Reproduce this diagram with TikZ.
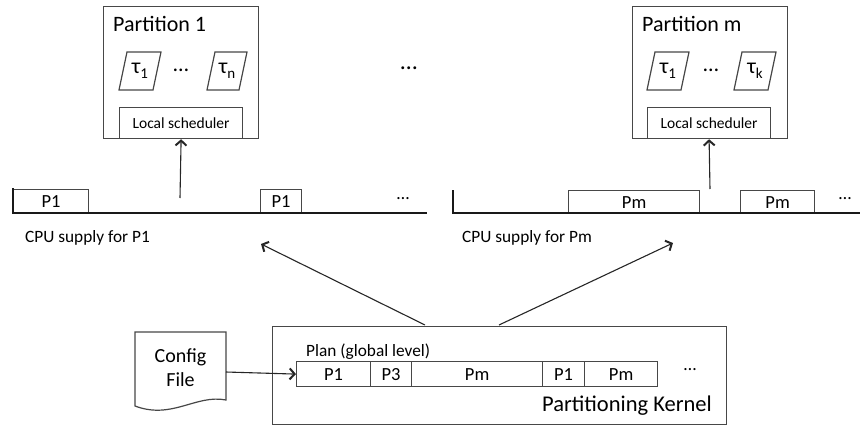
\documentclass[tikz,border=0pt]{standalone}
\usepackage{fontspec}
\setmainfont{Carlito}
\usetikzlibrary{arrows.meta}
\newcommand{\tsub}[1]{\raisebox{-0.45ex}{\fontsize{15}{15}\selectfont #1}}
\begin{document}
\begin{tikzpicture}[x=1pt,y=-1pt,
  box/.style={draw=black!72, line width=1.2pt},
  cell/.style={box, minimum height=25pt, inner sep=0pt, anchor=north west, font=\fontsize{18.5}{18.5}\selectfont},
  lbl/.style={inner sep=0pt, text=black},
  arr/.style={draw=black!85, line width=1.1pt, -{Straight Barb[length=5pt,width=11pt,line width=2pt]}},
  axis/.style={draw=black!90, line width=2.6pt}]
\useasboundingbox (0,0) rectangle (860,426);

% ---------------- Partition 1 ----------------
\node[box, anchor=north west, minimum width=155pt, minimum height=132pt, inner sep=0pt] (part1) at (103,6) {};
\node[lbl, anchor=west, font=\fontsize{22}{22}\selectfont] (part1t) at (113,24) {Partition 1};
\draw[box] (119,90) -- (127,52) -- (161,52) -- (153,90) -- cycle;
\node[lbl, font=\fontsize{22}{22}\selectfont] (t11) at (140,71) {τ\tsub{1}};
\node[lbl, font=\fontsize{22}{22}\selectfont] (d1) at (181,70) {\ldots};
\draw[box] (207,90) -- (215,52) -- (247,52) -- (239,90) -- cycle;
\node[lbl, font=\fontsize{22}{22}\selectfont] (t1n) at (227,71) {τ\tsub{n}};
\node[box, anchor=north west, minimum width=123pt, minimum height=31pt, inner sep=0pt, font=\fontsize{15.5}{15.5}\selectfont] (ls1) at (119,107) {Local scheduler};

% ---------------- Partition m ----------------
\node[box, anchor=north west, minimum width=155pt, minimum height=132pt, inner sep=0pt] (partm) at (632,6) {};
\node[lbl, anchor=west, font=\fontsize{22}{22}\selectfont] (partmt) at (642,24) {Partition m};
\draw[box] (647,90) -- (655,52) -- (689,52) -- (681,90) -- cycle;
\node[lbl, font=\fontsize{22}{22}\selectfont] (tm1) at (668,71) {τ\tsub{1}};
\node[lbl, font=\fontsize{22}{22}\selectfont] (dm) at (711,70) {\ldots};
\draw[box] (734,90) -- (742,52) -- (776,52) -- (768,90) -- cycle;
\node[lbl, font=\fontsize{22}{22}\selectfont] (tmk) at (755,71) {τ\tsub{k}};
\node[box, anchor=north west, minimum width=123pt, minimum height=31pt, inner sep=0pt, font=\fontsize{15.5}{15.5}\selectfont] (lsm) at (647,107) {Local scheduler};

% middle dots
\node[lbl, font=\fontsize{24}{24}\selectfont] (dtop) at (409,68) {\ldots};

% ---------------- Timeline P1 ----------------
\node[cell, minimum width=75pt, minimum height=24pt] (s11) at (13,189) {P1};
\node[cell, minimum width=41pt, minimum height=24pt] (s12) at (260,189) {P1};
\draw[axis] (13,188) -- (13,213) -- (427,213);
\node[lbl, font=\fontsize{18}{18}\selectfont] (sd1) at (403,199) {\ldots};
\node[lbl, anchor=west, font=\fontsize{17.3}{17.3}\selectfont] (cpu1) at (25,238) {CPU supply for P1};
\coordinate (a1) at (180,198);
\draw[arr] (a1) -- (ls1.south);

% ---------------- Timeline Pm ----------------
\node[cell, minimum width=131pt, minimum height=23pt] (sm1) at (568,190) {Pm};
\node[cell, minimum width=74pt, minimum height=23pt] (sm2) at (740,190) {Pm};
\draw[axis] (453,190) -- (453,213) -- (862,213);
\node[lbl, font=\fontsize{18}{18}\selectfont] (sdm) at (845,199) {\ldots};
\node[lbl, anchor=west, font=\fontsize{17.3}{17.3}\selectfont] (cpum) at (462,238) {CPU supply for Pm};
\coordinate (am) at (710,189);
\draw[arr] (am) -- (lsm.south);

% ---------------- Partitioning Kernel ----------------
\node[box, anchor=north west, minimum width=454pt, minimum height=98pt, inner sep=0pt] (kern) at (272,326) {};
\node[lbl, anchor=east, font=\fontsize{22.5}{22.5}\selectfont] (kernt) at (712,406) {Partitioning Kernel};
\node[lbl, anchor=west, font=\fontsize{17.3}{17.3}\selectfont] (plant) at (306,352) {Plan (global level)};
\node[cell, minimum width=74pt] (c1) at (296,361) {P1};
\node[cell, minimum width=41pt] (c2) at (370,361) {P3};
\node[cell, minimum width=131pt] (c3) at (411,361) {Pm};
\node[cell, minimum width=42pt] (c4) at (542,361) {P1};
\node[cell, minimum width=73pt] (c5) at (584,361) {Pm};
\node[lbl, font=\fontsize{18}{18}\selectfont] (kd) at (690,370) {\ldots};

% ---------------- Config file ----------------
\draw[box] (135,332) -- (226,332) -- (226,400) .. controls (196,394) and (172,420) .. (135,406) -- cycle;
\node[lbl, font=\fontsize{20}{24}\selectfont, align=center] (cfg) at (180.5,368) {Config\\File};
\coordinate (cfgr) at (226,372);
\draw[arr] (cfgr) -- (c1.west);

% arrows from kernel
\coordinate (k1) at (425,325);
\coordinate (k2) at (499,325);
\coordinate (e1) at (261,244);
\coordinate (e2) at (673,243);
\draw[arr] (k1) -- (e1);
\draw[arr] (k2) -- (e2);
\end{tikzpicture}
\end{document}
